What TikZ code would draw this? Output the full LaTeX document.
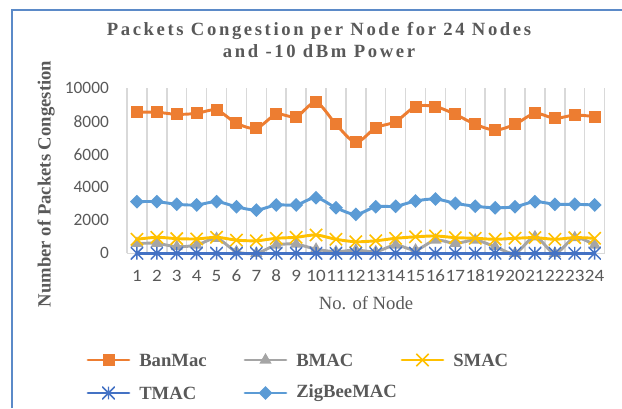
\documentclass[tikz,border=0pt]{standalone}
\usepackage{fontspec}
\setmainfont{Liberation Serif}
\newfontfamily\calfont{Carlito}
\usetikzlibrary{shapes.geometric,shapes.misc}
\definecolor{txtgray}{HTML}{595959}
\definecolor{banorange}{HTML}{ED7D31}
\definecolor{bmacgray}{HTML}{A5A5A5}
\definecolor{smacyellow}{HTML}{FFC000}
\definecolor{tmacblue}{HTML}{4472C4}
\definecolor{zigblue}{HTML}{5B9BD5}
\definecolor{gridgray}{HTML}{D9D9D9}
\definecolor{frameblue}{HTML}{5B8AC8}
\begin{document}
\begin{tikzpicture}[x=0.75pt,y=-0.75pt,
	txt/.style={text=txtgray,inner sep=0pt},
	big/.style={font=\fontsize{14}{16.5}\selectfont},
	bigbf/.style={font=\fontsize{14}{16.5}\selectfont\bfseries},
	num/.style={font=\calfont\fontsize{13}{15}\selectfont},
	serie/.style={line width=2.2pt,line join=round,line cap=round},
	grid/.style={gridgray,line width=1.1pt},
	sq/.style={rectangle,fill=banorange,inner sep=0pt,minimum size=9pt},
	tri/.style={regular polygon,regular polygon sides=3,fill=bmacgray,inner sep=0pt,minimum size=10.5pt},
	xmark/.style={cross out,draw=smacyellow,line width=1.2pt,inner sep=0pt,minimum size=8pt},
	ast/.style={rectangle,inner sep=0pt,minimum size=9.5pt,path picture={
		\draw[tmacblue,line width=1.1pt] (path picture bounding box.north) -- (path picture bounding box.south)
		(path picture bounding box.north west) -- (path picture bounding box.south east)
		(path picture bounding box.north east) -- (path picture bounding box.south west);}},
	dia/.style={diamond,fill=zigblue,inner sep=0pt,minimum size=10.5pt}]
\useasboundingbox (0,0) rectangle (622,408);
\draw[frameblue,line width=1.2pt] (12,408) -- (12,10) -- (622,10);
\node[txt,font=\fontsize{14}{16.5}\selectfont\bfseries\addfontfeature{LetterSpace=14},align=center] (title) at (319,40)
	{Packets Congestion per Node for 24 Nodes\\and -10 dBm Power};
\node[txt,bigbf,rotate=90] (ytitle) at (46,184) {Number of Packets Congestion};
\node[txt,big] (xtitle) at (366,303) {No. of Node};
\def\banmac{{8550,8550,8420,8480,8680,7880,7580,8420,8280,9150,7820,6730,7610,7980,8890,8890,8420,7820,7470,7820,8480,8180,8380,8280}}
\def\bmac{{600,600,400,500,900,100,0,500,550,250,100,200,100,500,200,800,600,800,400,0,1000,0,950,500}}
\def\smac{{850,970,890,870,970,800,760,910,970,1110,850,700,760,910,1000,1050,950,910,850,910,950,850,950,910}}
\def\tmac{{0,0,0,0,0,0,0,0,0,0,0,0,0,0,0,0,0,0,0,0,0,0,0,0}}
\def\zigbee{{3130,3130,2970,2930,3130,2820,2620,2930,2930,3370,2760,2360,2820,2850,3170,3290,3030,2850,2760,2820,3130,2970,2970,2930}}
\def\serie#1#2#3#4{
	\draw[serie,#2] plot[smooth,tension=0.5,samples at={1,...,24},variable=\t] (\t,{#1[\t-1]});
	\foreach \k in {1,...,24}
		\node[#3] (#4\k) at (\k,{#1[\k-1]}) {};
}
\begin{scope}[shift={(117.05,253.3)},x=14.925pt,y=0.012375pt]
\foreach \i in {0,...,24}
	\draw[grid] (\i+0.5,0) -- (\i+0.5,10000);
\draw[grid] (0.5,0) -- (24.5,0);
\foreach \v in {0,2000,...,10000}
	\node[txt,num,anchor=east] (yl\v) at (-0.4,\v) {\v};
\foreach \k in {1,...,24}
	\node[txt,num,xscale=1.1] (xl\k) at (\k,-1380) {\k};
\serie{\banmac}{banorange}{sq}{ban}
\serie{\bmac}{bmacgray}{tri}{bm}
\serie{\smac}{smacyellow}{xmark}{sm}
\serie{\tmac}{tmacblue}{ast}{tm}
\serie{\zigbee}{zigblue}{dia}{zb}
\end{scope}
\foreach \x/\y/\c/\m/\name in {88/360/banorange/sq/BanMac,245/360/bmacgray/tri/BMAC,402/360/smacyellow/xmark/SMAC,
	88/393/tmacblue/ast/TMAC,245/393/zigblue/dia/ZigBeeMAC}{
	\draw[serie,\c] (\x,\y) -- +(41,0);
	\node[\m] (lm\name) at (\x+20.5,\y) {};
	\node[txt,bigbf,anchor=west] (lt\name) at (\x+51,\y) {\name};
}
\end{tikzpicture}
\end{document}
